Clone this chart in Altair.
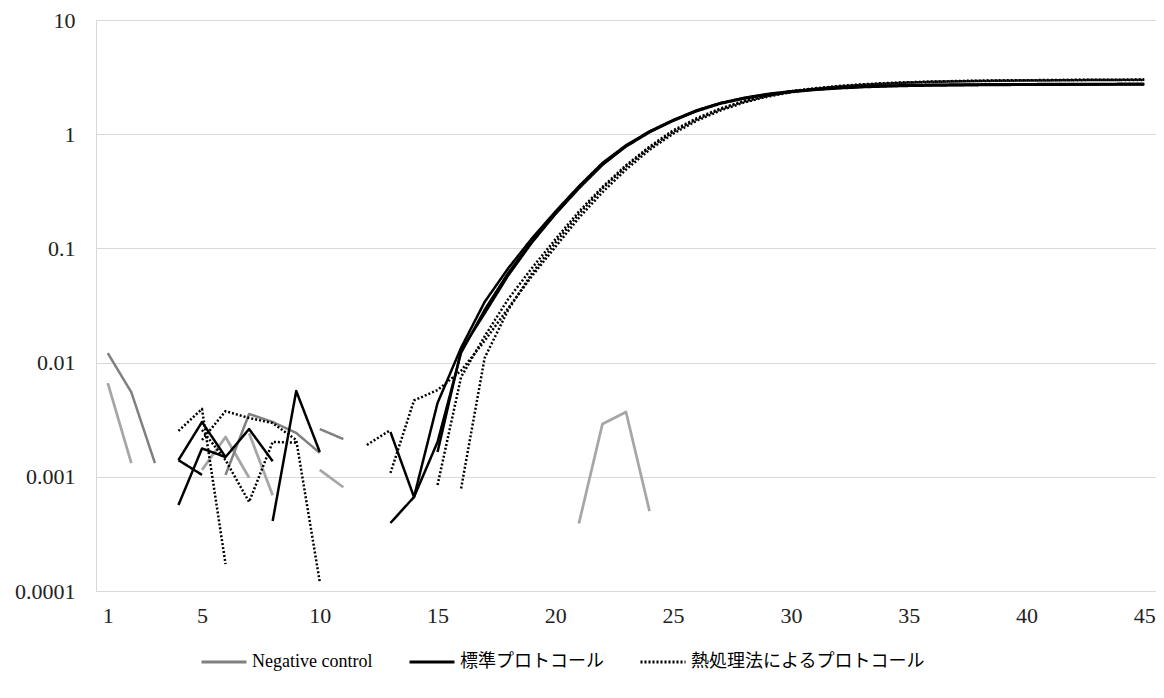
import altair as alt
import pandas as pd

cycles = list(range(1, 46))
groups = ["Negative control", "標準プロトコール", "熱処理法によるプロトコール"]
x_tick_values = [1, 5, 10, 15, 20, 25, 30, 35, 40, 45]
y_tick_values = [0.0001, 0.001, 0.01, 0.1, 1, 10]

# Negative control wells (two shades of grey)
nc_dark_a = [0.0121, 0.0055, 0.00132, None, None,
             0.00104, 0.00355, 0.00302, 0.00242, 0.00162] + [None] * 35
nc_dark_b = [None] * 9 + [0.00262, 0.00214] + [None] * 34
nc_light_a = ([0.0066, 0.00132, None, None, 0.00115, 0.00223, 0.00098, None, None,
               0.00115, 0.00081] + [None] * 9
              + [0.00039, 0.0029, 0.00369, 0.0005] + [None] * 21)
nc_light_b = [None] * 6 + [0.0024, 0.00069] + [None] * 37

# Standard protocol wells
std_a = ([None] * 3 + [0.0014, 0.00302, 0.00149, 0.00262, 0.00137] + [None] * 4
         + [0.00247, 0.000665, 0.00443,
            0.0135, 0.034, 0.067, 0.122, 0.21, 0.35, 0.56, 0.80, 1.06, 1.33,
            1.62, 1.87, 2.07, 2.23, 2.36, 2.46, 2.54, 2.60, 2.64, 2.67,
            2.69, 2.70, 2.71, 2.72, 2.72, 2.73, 2.73, 2.73, 2.74, 2.74])
std_b = ([None] * 3 + [0.0014, 0.00104, None, None, 0.00041, 0.00564, 0.00165, None, None,
                       0.000394, 0.000665, 0.00202]
         + [0.0122, 0.029, 0.061, 0.115, 0.20, 0.34, 0.54, 0.78, 1.04, 1.31,
            1.59, 1.85, 2.05, 2.21, 2.34, 2.44, 2.52, 2.58, 2.62, 2.65,
            2.67, 2.68, 2.69, 2.70, 2.71, 2.71, 2.72, 2.72, 2.72, 2.73])
std_c = ([None] * 3 + [0.000566, 0.00177, 0.00149] + [None] * 8 + [0.00165]
         + [0.0128, 0.027, 0.058, 0.112, 0.20, 0.335, 0.54, 0.79, 1.05, 1.32,
            1.61, 1.87, 2.08, 2.25, 2.38, 2.48, 2.56, 2.62, 2.66, 2.69,
            2.71, 2.72, 2.73, 2.74, 2.74, 2.75, 2.75, 2.75, 2.76, 2.76])

# Heat-treatment protocol wells
heat_a = ([None] * 3 + [0.00252, 0.00393, 0.000172] + [None] * 6 + [0.00108, 0.00466, 0.00575]
          + [0.0085, 0.0155, 0.030, 0.057, 0.103, 0.185, 0.31, 0.49, 0.73, 1.01,
             1.31, 1.61, 1.89, 2.13, 2.33, 2.49, 2.61, 2.70, 2.77, 2.83,
             2.87, 2.90, 2.92, 2.94, 2.95, 2.96, 2.97, 2.98, 2.98, 2.99])
heat_b = ([None] * 4 + [0.0021, 0.00376, 0.00327, 0.00296, 0.0021, 0.00012, None,
                        0.0019, 0.00257, None, 0.000848]
          + [0.00748, 0.017, 0.036, 0.067, 0.12, 0.21, 0.345, 0.535, 0.78, 1.08,
             1.38, 1.68, 1.95, 2.18, 2.37, 2.52, 2.64, 2.73, 2.80, 2.85,
             2.89, 2.92, 2.94, 2.96, 2.97, 2.98, 2.99, 3.00, 3.00, 3.01])
heat_c = ([None] * 4 + [0.00257, 0.0014, 0.000602, 0.00202, 0.00199] + [None] * 6
          + [0.00079, 0.011, 0.029, 0.060, 0.112, 0.20, 0.335, 0.52, 0.76, 1.05,
             1.35, 1.65, 1.93, 2.16, 2.35, 2.50, 2.62, 2.71, 2.78, 2.84,
             2.88, 2.91, 2.93, 2.95, 2.96, 2.97, 2.98, 2.99, 2.99, 3.00])

series = [
    ("nc_light_a", groups[0], "light", nc_light_a),
    ("nc_light_b", groups[0], "light", nc_light_b),
    ("nc_dark_a", groups[0], "main", nc_dark_a),
    ("nc_dark_b", groups[0], "main", nc_dark_b),
    ("std_a", groups[1], "main", std_a),
    ("std_b", groups[1], "main", std_b),
    ("std_c", groups[1], "main", std_c),
    ("heat_a", groups[2], "main", heat_a),
    ("heat_b", groups[2], "main", heat_b),
    ("heat_c", groups[2], "main", heat_c),
]

rows = []
for name, group, shade, vals in series:
    assert len(vals) == 45, name
    seg = 0
    prev_none = True
    for c, v in zip(cycles, vals):
        if v is None:
            if not prev_none:
                seg += 1
            prev_none = True
            continue
        prev_none = False
        rows.append({"cycle": c, "value": v, "group": group, "shade": shade,
                     "seg": f"{name}-{seg}"})
df = pd.DataFrame(rows)

SERIF = "'Liberation Serif', 'Noto Sans CJK JP', serif"

x_enc = alt.X(
    "cycle:Q",
    scale=alt.Scale(domain=[0.5, 45.5], nice=False, zero=False),
    axis=alt.Axis(values=x_tick_values, title=None, grid=False, ticks=False,
                  labelFont=SERIF, labelFontSize=22, labelColor="#222222",
                  labelPadding=14, domainColor="#d9d9d9", labelFlush=False),
)
y_enc = alt.Y(
    "value:Q",
    scale=alt.Scale(type="log", domain=[0.0001, 10], nice=False),
    axis=alt.Axis(values=y_tick_values, format=".4~f", title=None, ticks=False,
                  grid=True, gridColor="#d9d9d9", gridWidth=1,
                  labelFont=SERIF, labelFontSize=22, labelColor="#222222",
                  labelPadding=21, domainColor="#d9d9d9", labelFlush=False),
)

legend = alt.Legend(
    title=None, orient="none", legendX=104, legendY=618, direction="horizontal",
    symbolType="stroke", symbolSize=2025, symbolStrokeWidth=3,
    labelFont=SERIF, labelFontSize=18, labelColor="#000000", labelLimit=0,
    labelOffset=4, columnPadding=30, padding=0,
)

light = alt.Chart(df).transform_filter(alt.datum.shade == "light").mark_line(
    color="#a6a6a6", strokeWidth=2.75, strokeJoin="round"
).encode(x=x_enc, y=y_enc, detail="seg:N", order="cycle:Q")

main = alt.Chart(df).transform_filter(alt.datum.shade == "main").mark_line(
    strokeWidth=2.5, strokeJoin="round"
).encode(
    x=x_enc,
    y=y_enc,
    color=alt.Color("group:N", scale=alt.Scale(domain=groups,
                    range=["#808080", "#000000", "#000000"]), legend=legend),
    strokeDash=alt.StrokeDash("group:N", scale=alt.Scale(domain=groups,
                              range=[[1, 0], [1, 0], [2, 2]]), legend=legend),
    detail="seg:N",
    order="cycle:Q",
)

chart = alt.layer(light, main).properties(
    width=1060, height=571,
    padding={"left": 88, "top": 12, "right": 0, "bottom": 91},
    autosize=alt.AutoSizeParams(type="none"),
).configure_view(
    stroke="#d9d9d9", strokeWidth=1
).configure_legend(
    labelFont=SERIF, labelFontSize=18
)

chart.save("out.html", embed_options={"renderer": "svg", "actions": False})
